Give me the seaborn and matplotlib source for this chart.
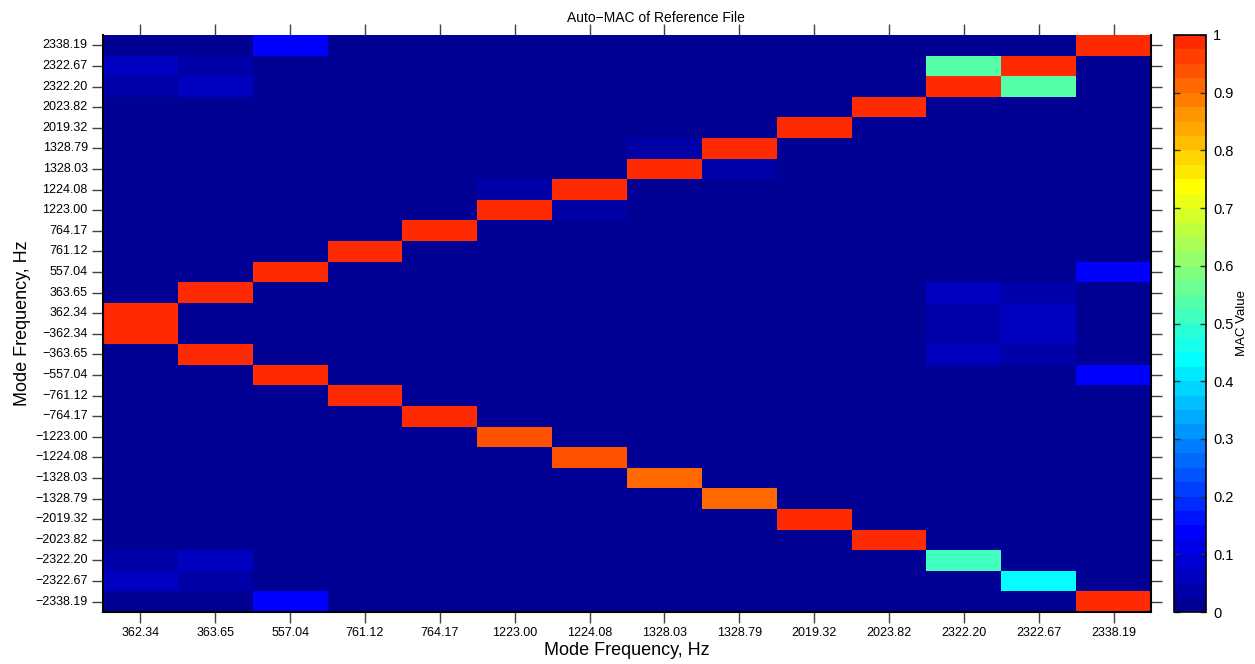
import numpy as np
import pandas as pd
import matplotlib
matplotlib.use("Agg")
import matplotlib.pyplot as plt
import seaborn as sns
from matplotlib.colors import ListedColormap, LinearSegmentedColormap

M = "\u2212"
col_labels = ["362.34", "363.65", "557.04", "761.12", "764.17", "1223.00", "1224.08",
              "1328.03", "1328.79", "2019.32", "2023.82", "2322.20", "2322.67", "2338.19"]
row_labels = ["2338.19", "2322.67", "2322.20", "2023.82", "2019.32", "1328.79", "1328.03",
              "1224.08", "1223.00", "764.17", "761.12", "557.04", "363.65", "362.34",
              M + "362.34", M + "363.65", M + "557.04", M + "761.12", M + "764.17",
              M + "1223.00", M + "1224.08", M + "1328.03", M + "1328.79", M + "2019.32",
              M + "2023.82", M + "2322.20", M + "2322.67", M + "2338.19"]

# MAC values, one list per row (columns in col_labels order)
mac_rows = [
    [0, 0, 0.13, 0, 0, 0, 0, 0, 0, 0, 0, 0, 0, 1],
    [0.06, 0.04, 0, 0, 0, 0, 0, 0, 0, 0, 0, 0.54, 1, 0],
    [0.04, 0.06, 0, 0, 0, 0, 0, 0, 0, 0, 0, 1, 0.54, 0],
    [0, 0, 0, 0, 0, 0, 0, 0, 0, 0, 1, 0, 0, 0],
    [0, 0, 0, 0, 0, 0, 0, 0, 0, 1, 0, 0, 0, 0],
    [0, 0, 0, 0, 0, 0, 0, 0.04, 1, 0, 0, 0, 0, 0],
    [0, 0, 0, 0, 0, 0, 0, 1, 0.04, 0, 0, 0, 0, 0],
    [0, 0, 0, 0, 0, 0.04, 1, 0, 0, 0, 0, 0, 0, 0],
    [0, 0, 0, 0, 0, 1, 0.04, 0, 0, 0, 0, 0, 0, 0],
    [0, 0, 0, 0, 1, 0, 0, 0, 0, 0, 0, 0, 0, 0],
    [0, 0, 0, 1, 0, 0, 0, 0, 0, 0, 0, 0, 0, 0],
    [0, 0, 1, 0, 0, 0, 0, 0, 0, 0, 0, 0, 0, 0.13],
    [0, 1, 0, 0, 0, 0, 0, 0, 0, 0, 0, 0.06, 0.04, 0],
    [1, 0, 0, 0, 0, 0, 0, 0, 0, 0, 0, 0.04, 0.06, 0],
    [1, 0, 0, 0, 0, 0, 0, 0, 0, 0, 0, 0.04, 0.06, 0],
    [0, 1, 0, 0, 0, 0, 0, 0, 0, 0, 0, 0.06, 0.04, 0],
    [0, 0, 1, 0, 0, 0, 0, 0, 0, 0, 0, 0, 0, 0.13],
    [0, 0, 0, 1, 0, 0, 0, 0, 0, 0, 0, 0, 0, 0],
    [0, 0, 0, 0, 1, 0, 0, 0, 0, 0, 0, 0, 0, 0],
    [0, 0, 0, 0, 0, 0.94, 0, 0, 0, 0, 0, 0, 0, 0],
    [0, 0, 0, 0, 0, 0, 0.94, 0, 0, 0, 0, 0, 0, 0],
    [0, 0, 0, 0, 0, 0, 0, 0.91, 0, 0, 0, 0, 0, 0],
    [0, 0, 0, 0, 0, 0, 0, 0, 0.91, 0, 0, 0, 0, 0],
    [0, 0, 0, 0, 0, 0, 0, 0, 0, 1, 0, 0, 0, 0],
    [0, 0, 0, 0, 0, 0, 0, 0, 0, 0, 1, 0, 0, 0],
    [0.04, 0.06, 0, 0, 0, 0, 0, 0, 0, 0, 0, 0.51, 0, 0],
    [0.06, 0.04, 0, 0, 0, 0, 0, 0, 0, 0, 0, 0, 0.44, 0],
    [0, 0, 0.13, 0, 0, 0, 0, 0, 0, 0, 0, 0, 0, 1],
]
cbar_ticks = [0, 0.1, 0.2, 0.3, 0.4, 0.5, 0.6, 0.7, 0.8, 0.9, 1]
cbar_ticklabels = ["0", "0.1", "0.2", "0.3", "0.4", "0.5", "0.6", "0.7", "0.8", "0.9", "1"]

df = pd.DataFrame(mac_rows, index=row_labels, columns=col_labels)

# discrete jet-like colormap with 40 levels
base = LinearSegmentedColormap.from_list(
    "jetlike",
    [(0.0, (0, 0, 0.546)), (0.1375, (0, 0, 1)), (0.4375, (0, 1, 1)),
     (0.5875, (0.5, 1, 0.5)), (0.7375, (1, 1, 0)), (1.0, (1, 0.125, 0))])
n_levels = 40
cmap = ListedColormap(base((np.arange(n_levels) + 0.5) / n_levels))

plt.rcParams["font.family"] = ["Liberation Sans", "DejaVu Sans"]

W, H = 1255, 664
fig = plt.figure(figsize=(W / 100, H / 100), dpi=100)
ax = fig.add_axes([103 / W, 1 - 612 / H, (1151 - 103) / W, (612 - 35) / H])
cax = fig.add_axes([1174 / W, 1 - 612 / H, (1206 - 1174) / W, (612 - 35) / H])

sns.heatmap(df, cmap=cmap, vmin=0, vmax=1, ax=ax, cbar_ax=cax,
            xticklabels=col_labels, yticklabels=row_labels, linewidths=0)

fig.text(656 / W, 1 - 18.5 / H, "Auto\u2212MAC of Reference File", fontsize=10,
         ha="center", va="center")
ax.set_xlabel("Mode Frequency, Hz", fontsize=13, labelpad=2)
ax.set_ylabel("Mode Frequency, Hz", fontsize=13, labelpad=3)
ax.tick_params(axis="both", which="both", direction="out", length=8, width=1,
               color="#404040", labelsize=9, top=True, right=True,
               labeltop=False, labelright=False, pad=3)
plt.setp(ax.get_yticklabels(), rotation=0)
plt.setp(ax.get_xticklabels(), rotation=0)

for side in ["left", "bottom", "right"]:
    ax.spines[side].set_visible(True)
    ax.spines[side].set_color("black")
    ax.spines[side].set_linewidth(1.5)
ax.spines["top"].set_visible(False)

cbar = ax.collections[0].colorbar
cbar.set_ticks(cbar_ticks)
cbar.set_ticklabels(cbar_ticklabels)
cbar.outline.set_visible(True)
cbar.outline.set_edgecolor("black")
cbar.outline.set_linewidth(1.2)
cax.tick_params(direction="in", left=True, right=True, length=4, width=1,
                color="#303030", labelsize=10.5, pad=5)
cbar.set_label("MAC Value", fontsize=9.5, labelpad=2)

fig.savefig("out.png", dpi=100)
